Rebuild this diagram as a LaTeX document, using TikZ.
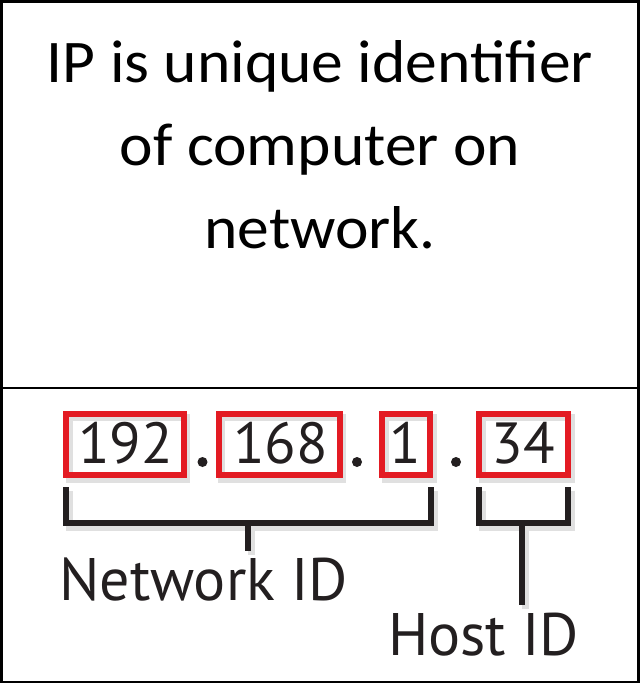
\documentclass[tikz,border=0pt]{standalone}
\usepackage{fontspec}
\setmainfont{Carlito}[FakeStretch=1.05]
\newfontfamily\numfont{PT Sans}
\definecolor{boxred}{HTML}{E31B23}
\definecolor{ink}{HTML}{231F20}
\begin{document}
\begin{tikzpicture}[x=1pt,y=-1pt,
  frame/.style={draw=black,line width=2.5pt},
  numbox/.style={draw=boxred,line width=6pt},
  brack/.style={draw=ink,line width=6pt},
  shadow/.style={draw=black!12,line width=7pt},
  numtxt/.style={font=\numfont\fontsize{58}{58}\selectfont,text=ink,inner sep=0pt,anchor=base},
  lbl/.style={font=\numfont\fontsize{60}{60}\selectfont,text=ink,inner sep=0pt,anchor=base west},
  title/.style={font=\fontsize{60.5}{83}\selectfont,inner sep=0pt,anchor=base}]
\useasboundingbox (0,0) rectangle (640,683);
\fill[white] (0,0) rectangle (640,683);
% frame
\draw[frame] (1.25,1.25) rectangle (638.5,681.75);
\draw[frame] (1.25,388) -- (638.5,388);
% title
\node[title] (t1) at (320,82) {IP is unique identifier};
\node[title] (t2) at (320,165) {of computer on};
\node[title] (t3) at (320,248) {network.};
% shadows of boxes and brackets
\begin{scope}[shift={(3,4)}]
\draw[shadow] (66.3,413.7) rectangle (183.7,475.3);
\draw[shadow] (218.7,413.7) rectangle (339.7,475.3);
\draw[shadow] (382,413.7) rectangle (430,475.3);
\draw[shadow] (479,413.7) rectangle (568,475.3);
\draw[shadow] (66,487) -- (66,523) -- (431,523) -- (431,487);
\draw[shadow] (479,487) -- (479,523) -- (568,523) -- (568,487);
\draw[shadow] (248,523) -- (248,551);
\draw[shadow] (522,523) -- (522,605);
\end{scope}
% number boxes
\draw[numbox] (66.3,413.7) rectangle (183.7,475.3);
\draw[numbox] (218.7,413.7) rectangle (339.7,475.3);
\draw[numbox] (382,413.7) rectangle (430,475.3);
\draw[numbox] (479,413.7) rectangle (568,475.3);
\node[numtxt] (n1) at (125.5,463) {192};
\node[numtxt] (n2) at (280.5,463) {168};
\node[numtxt] (n3) at (405,463) {1};
\node[numtxt] (n4) at (523,463) {34};
\fill[ink] (202.5,462) circle (5);
\fill[ink] (357,462) circle (5);
\fill[ink] (456,462) circle (5);
% brackets
\coordinate (nbL) at (66,487);
\coordinate (nbR) at (431,487);
\coordinate (nbS) at (248,523);
\coordinate (nbE) at (248,551);
\draw[brack] (nbL) -- (66,523) -- (431,523) -- (nbR);
\draw[brack] (nbS) -- (nbE);
\coordinate (hbL) at (479,487);
\coordinate (hbR) at (568,487);
\coordinate (hbS) at (522,523);
\coordinate (hbE) at (522,605);
\draw[brack] (hbL) -- (479,523) -- (568,523) -- (hbR);
\draw[brack] (hbS) -- (hbE);
\node[lbl] (net) at (59,600) {Network ID};
\node[lbl] (host) at (388,655) {Host ID};
\end{tikzpicture}
\end{document}
